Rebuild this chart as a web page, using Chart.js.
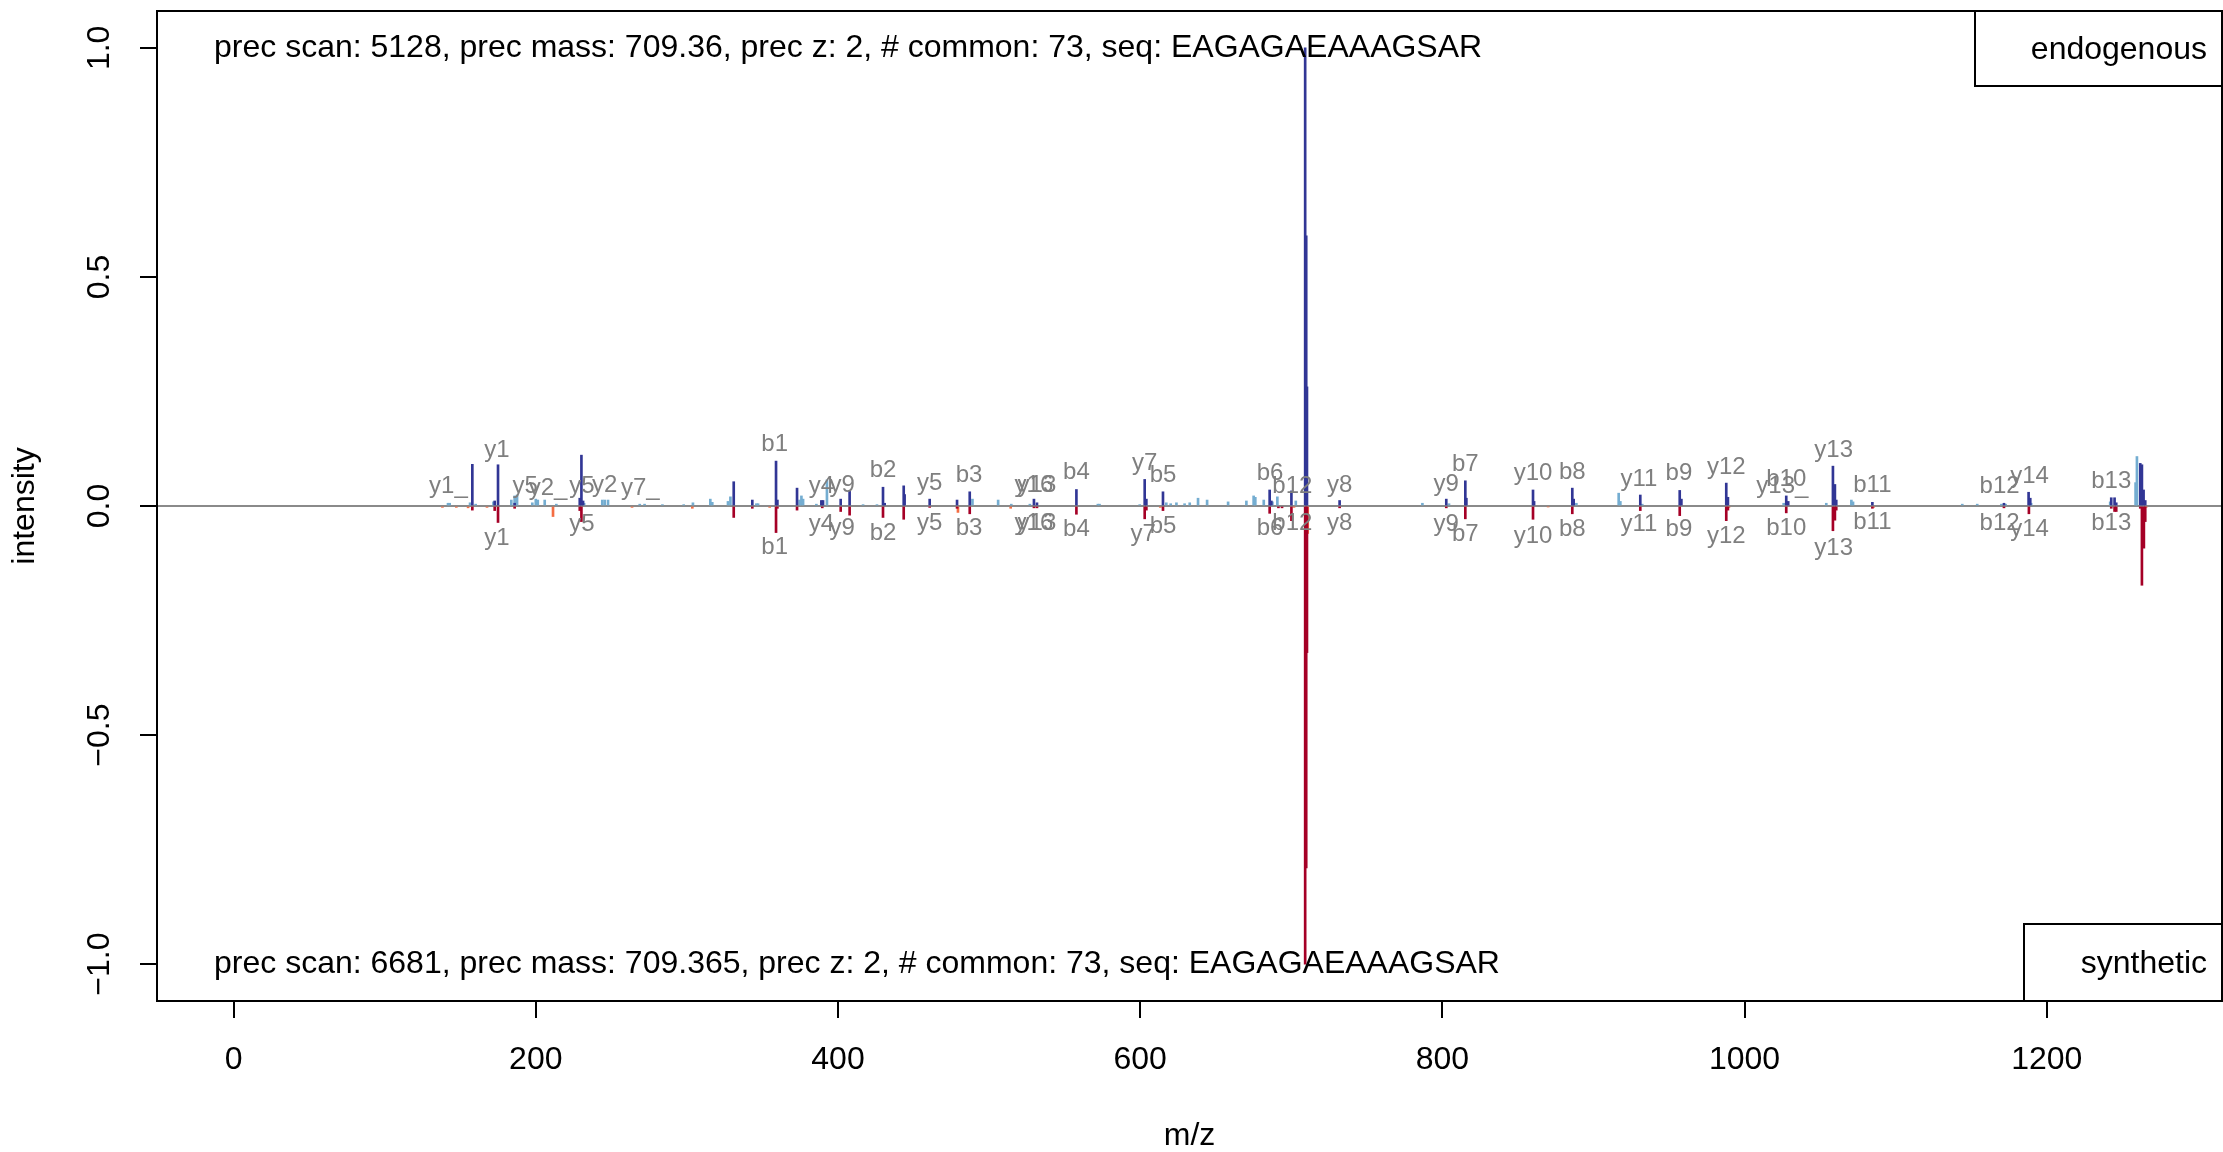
<!DOCTYPE html>
<html>
<head>
<meta charset="utf-8">
<script src="https://cdn.jsdelivr.net/npm/chart.js@4/dist/chart.umd.min.js"></script>
<style>
  html, body { margin: 0; padding: 0; background: #fff; }
  canvas { display: block; }
</style>
</head>
<body>
<canvas id="spectrum" width="2223" height="1152"></canvas>
<script>
// endogenous peaks matched to fragment ions (dark blue, up)
const endoMatchedMz = [158.0, 172.8, 175.0, 186.0, 229.1, 230.2, 231.3, 331.0, 343.3, 359.0, 359.9, 372.9,
  389.0, 390.1, 401.8, 407.7, 429.8, 430.9, 443.5, 444.1, 460.7, 478.8, 487.2, 529.7, 531.7, 557.8,
  603.0, 604.1, 615.1, 685.7, 686.8, 700.1, 709.2, 709.9, 710.4, 732.0, 802.6, 815.2, 815.9, 860.0,
  860.7, 886.0, 886.9, 931.0, 957.1, 958.2, 987.9, 989.0, 1027.6, 1028.9, 1058.5, 1059.8, 1060.7,
  1084.6, 1171.7, 1188.0, 1189.1, 1242.7, 1244.9, 1246.0, 1261.9, 1263.0, 1264.1, 1265.2];
const endoMatchedInt = [0.091, 0.011, 0.090, 0.006, 0.017, 0.111, 0.011, 0.053, 0.013, 0.098, 0.013, 0.039,
  0.012, 0.012, 0.015, 0.033, 0.041, 0.006, 0.044, 0.025, 0.015, 0.013, 0.031, 0.015, 0.007, 0.036,
  0.058, 0.015, 0.031, 0.035, 0.011, 0.033, 1.0, 0.59, 0.26, 0.012, 0.015, 0.055, 0.017, 0.035,
  0.010, 0.039, 0.015, 0.024, 0.034, 0.015, 0.050, 0.019, 0.022, 0.010, 0.087, 0.047, 0.013,
  0.008, 0.006, 0.030, 0.017, 0.018, 0.018, 0.007, 0.093, 0.090, 0.035, 0.012];

// endogenous peaks without a match (light blue, up)
const endoOtherMz = [141.9, 143.0, 156.5, 160.2, 172.0, 183.8, 186.0, 187.6, 197.7, 200.0, 201.3, 205.9,
  213.6, 232.0, 244.0, 245.6, 247.8, 268.8, 272.0, 283.8, 297.9, 304.0, 315.5, 316.8, 327.2, 328.8,
  346.0, 347.1, 374.6, 375.8, 376.9, 385.7, 392.7, 416.6, 425.8, 489.0, 506.0, 514.7, 527.0, 572.0,
  573.1, 599.7, 617.3, 620.2, 624.0, 629.4, 632.8, 638.3, 644.3, 658.2, 670.3, 675.1, 676.2, 681.8,
  687.5, 690.8, 703.0, 786.8, 804.4, 888.7, 916.7, 917.8, 932.3, 1025.9, 1054.1, 1070.7, 1071.8,
  1144.1, 1154.0, 1170.0, 1172.8, 1189.7, 1242.0, 1258.8, 1259.7];
const endoOtherInt = [0.006, 0.006, 0.007, 0.004, 0.009, 0.013, 0.022, 0.024, 0.007, 0.015, 0.013, 0.013,
  0.004, 0.006, 0.013, 0.013, 0.013, 0.004, 0.004, 0.003, 0.003, 0.007, 0.015, 0.008, 0.010, 0.020,
  0.005, 0.005, 0.013, 0.022, 0.015, 0.004, 0.057, 0.003, 0.003, 0.015, 0.013, 0.004, 0.004, 0.004,
  0.004, 0.003, 0.007, 0.005, 0.007, 0.005, 0.007, 0.017, 0.013, 0.009, 0.011, 0.022, 0.019, 0.013,
  0.009, 0.020, 0.011, 0.006, 0.005, 0.006, 0.028, 0.010, 0.004, 0.006, 0.006, 0.013, 0.009,
  0.004, 0.004, 0.004, 0.004, 0.006, 0.009, 0.051, 0.108];

// synthetic peaks matched to fragment ions (dark red, down)
const synthMatchedMz = [158.0, 172.8, 175.0, 186.0, 229.1, 230.2, 331.0, 343.3, 359.0, 359.9, 372.9, 389.6,
  401.8, 407.7, 429.8, 443.5, 460.7, 478.8, 487.2, 529.7, 531.7, 557.8, 603.0, 604.1, 615.1, 685.7,
  691.5, 693.9, 700.1, 709.2, 709.9, 710.4, 732.0, 802.6, 815.2, 860.0, 886.0, 931.0, 957.1, 987.9,
  989.0, 1027.6, 1058.5, 1059.8, 1060.7, 1084.6, 1171.7, 1188.2, 1242.7, 1244.9, 1246.0, 1261.9,
  1263.0, 1264.3, 1265.2];
const synthMatchedInt = [-0.009, -0.010, -0.036, -0.005, -0.010, -0.034, -0.025, -0.005, -0.058, -0.005, -0.009, -0.004,
  -0.012, -0.020, -0.025, -0.029, -0.003, -0.005, -0.017, -0.004, -0.004, -0.018, -0.028, -0.009, -0.010, -0.016,
  -0.004, -0.004, -0.032, -1.0, -0.79, -0.32, -0.004, -0.004, -0.028, -0.029, -0.017, -0.010, -0.021, -0.032,
  -0.009, -0.015, -0.054, -0.031, -0.009, -0.005, -0.004, -0.017, -0.005, -0.012, -0.012, -0.005,
  -0.173, -0.092, -0.034];

// synthetic peaks without a match (orange, down)
const synthOtherMz = [138.2, 147.4, 155.2, 167.7, 211.4, 263.7, 303.6, 354.8, 479.4, 514.3, 613.3, 701.8,
  710.9, 870.0, 989.7, 1085.4, 1265.8];
const synthOtherInt = [-0.003, -0.003, -0.004, -0.003, -0.023, -0.003, -0.005, -0.003, -0.014, -0.005, -0.003, -0.003,
  -0.06, -0.002, -0.003, -0.003, -0.003];

// ion labels above the endogenous spectrum
const topLabelText = ["y1_", "y1", "y5", "y2_", "y5", "y2", "y7_", "b1", "y4", "y9", "b2", "y5", "b3", "y16", "y13",
  "b4", "y7", "b5", "b6", "b12", "y8", "y9", "b7", "y10", "b8", "y11", "b9", "y12", "y13_", "b10", "y13", "b11",
  "b12", "y14", "b13"];
const topLabelMz = [142.2, 174.3, 192.9, 208.1, 230.6, 245.6, 269.2, 358.1, 389.0, 402.7, 429.8, 460.7, 486.7, 529.7, 531.7,
  557.8, 603.0, 615.1, 686.0, 700.7, 732.0, 802.6, 815.2, 860.0, 886.0, 930.1, 956.6, 987.9, 1025.0, 1027.6, 1059.0, 1084.6,
  1168.8, 1188.6, 1242.7];
const topLabelInt = [0.042, 0.122, 0.042, 0.039, 0.042, 0.046, 0.039, 0.135, 0.042, 0.046, 0.077, 0.050, 0.066, 0.046, 0.046,
  0.074, 0.093, 0.066, 0.071, 0.042, 0.046, 0.047, 0.090, 0.071, 0.073, 0.059, 0.071, 0.084, 0.042, 0.058, 0.122, 0.046,
  0.042, 0.064, 0.053];

// ion labels below the synthetic spectrum
const bottomLabelText = ["y1", "y5", "b1", "y4", "y9", "b2", "y5", "b3", "y16", "y13", "b4", "y7", "b5", "b6", "b12", "y8",
  "y9", "b7", "y10", "b8", "y11", "b9", "y12", "b10", "y13", "b11", "b12", "y14", "b13"];
const bottomLabelMz = [174.3, 230.6, 358.1, 389.0, 402.7, 429.8, 460.7, 486.7, 529.7, 531.7, 557.8, 602.0, 615.1, 686.0, 700.7, 732.0,
  802.6, 815.2, 860.0, 886.0, 930.1, 956.6, 987.9, 1027.6, 1059.0, 1084.6, 1168.8, 1188.6, 1242.7];
const bottomLabelInt = [-0.071, -0.041, -0.091, -0.041, -0.049, -0.060, -0.038, -0.049, -0.038, -0.038, -0.051, -0.063, -0.044, -0.049, -0.038, -0.039,
  -0.040, -0.063, -0.066, -0.051, -0.041, -0.052, -0.067, -0.049, -0.092, -0.036, -0.038, -0.052, -0.038];

const xTicks = [0, 200, 400, 600, 800, 1000, 1200];
const yTicks = [-1, -0.5, 0, 0.5, 1];
const yTickLabels = ["\u22121.0", "\u22120.5", "0.0", "0.5", "1.0"];

const topInfo = "prec scan: 5128, prec mass: 709.36, prec z: 2, # common: 73, seq: EAGAGAEAAAGSAR";
const bottomInfo = "prec scan: 6681, prec mass: 709.365, prec z: 2, # common: 73, seq: EAGAGAEAAAGSAR";

const FONT = '"Liberation Sans", Arial, Helvetica, sans-serif';

function toPoints(xs, ys) {
  return xs.map((x, i) => ({ x: x, y: ys[i] }));
}

// baseline, frame, axis text, ion labels and the two legend boxes
const spectrumDecor = {
  id: "spectrumDecor",
  beforeDatasetsDraw(chart) {
    const { ctx, chartArea, scales } = chart;
    const y0 = scales.y.getPixelForValue(0);
    ctx.save();
    ctx.strokeStyle = "#8a8a8a";
    ctx.lineWidth = 2;
    ctx.beginPath();
    ctx.moveTo(chartArea.left, y0);
    ctx.lineTo(chartArea.right, y0);
    ctx.stroke();
    ctx.restore();
  },
  afterDatasetsDraw(chart) {
    const { ctx, chartArea, scales } = chart;
    const xs = scales.x, ys = scales.y;
    ctx.save();

    // ion labels
    ctx.fillStyle = "#7f7f7f";
    ctx.font = "24px " + FONT;
    ctx.textAlign = "center";
    ctx.textBaseline = "middle";
    topLabelText.forEach((t, i) => {
      ctx.fillText(t, xs.getPixelForValue(topLabelMz[i]), ys.getPixelForValue(topLabelInt[i]));
    });
    bottomLabelText.forEach((t, i) => {
      ctx.fillText(t, xs.getPixelForValue(bottomLabelMz[i]), ys.getPixelForValue(bottomLabelInt[i]));
    });

    // precursor info lines
    ctx.fillStyle = "#000";
    ctx.font = "32px " + FONT;
    ctx.textAlign = "left";
    ctx.fillText(topInfo, chartArea.left + 57, ys.getPixelForValue(1));
    ctx.fillText(bottomInfo, chartArea.left + 57, ys.getPixelForValue(-1));

    // legend boxes
    ctx.lineWidth = 2;
    ctx.strokeStyle = "#000";
    ctx.fillStyle = "#fff";
    ctx.fillRect(1975, chartArea.top, chartArea.right - 1975, 75);
    ctx.strokeRect(1975, chartArea.top, chartArea.right - 1975, 75);
    ctx.fillRect(2024, chartArea.bottom - 77, chartArea.right - 2024, 77);
    ctx.strokeRect(2024, chartArea.bottom - 77, chartArea.right - 2024, 77);
    ctx.fillStyle = "#000";
    ctx.textAlign = "right";
    ctx.fillText("endogenous", chartArea.right - 15, chartArea.top + 39);
    ctx.fillText("synthetic", chartArea.right - 15, chartArea.bottom - 37);

    // frame
    ctx.strokeRect(chartArea.left, chartArea.top, chartArea.right - chartArea.left, chartArea.bottom - chartArea.top);

    // tick labels
    ctx.textAlign = "center";
    xTicks.forEach(v => ctx.fillText(String(v), xs.getPixelForValue(v), 1060));
    yTicks.forEach((v, i) => {
      ctx.save();
      ctx.translate(100, ys.getPixelForValue(v));
      ctx.rotate(-Math.PI / 2);
      ctx.fillText(yTickLabels[i], 0, 0);
      ctx.restore();
    });

    // axis titles
    ctx.fillText("m/z", (chartArea.left + chartArea.right) / 2, 1136);
    ctx.save();
    ctx.translate(25, (chartArea.top + chartArea.bottom) / 2);
    ctx.rotate(-Math.PI / 2);
    ctx.fillText("intensity", 0, 0);
    ctx.restore();

    ctx.restore();
  },
};

const axisGrid = { drawOnChartArea: false, drawTicks: true, tickLength: 17, color: "#000", lineWidth: 2, offset: false };

new Chart(document.getElementById("spectrum"), {
  type: "bar",
  data: {
    datasets: [
      { label: "endogenous other", data: toPoints(endoOtherMz, endoOtherInt), backgroundColor: "#74ADD1", order: 4 },
      { label: "synthetic other", data: toPoints(synthOtherMz, synthOtherInt), backgroundColor: "#F46D43", order: 3 },
      { label: "endogenous", data: toPoints(endoMatchedMz, endoMatchedInt), backgroundColor: "#313695", order: 2 },
      { label: "synthetic", data: toPoints(synthMatchedMz, synthMatchedInt), backgroundColor: "#A50026", order: 1 },
    ],
  },
  options: {
    responsive: false,
    animation: false,
    events: [],
    datasets: { bar: { barThickness: 2, grouped: false, borderWidth: 0 } },
    layout: { padding: { top: 11, right: 1, left: 0, bottom: 0 } },
    plugins: { legend: { display: false }, tooltip: { enabled: false } },
    scales: {
      x: {
        type: "linear",
        min: -50.7,
        max: 1316,
        offset: false,
        afterBuildTicks: (s) => { s.ticks = xTicks.map(v => ({ value: v })); },
        afterFit: (s) => { s.height = 151; },
        grid: axisGrid,
        border: { display: false },
        ticks: { display: false },
      },
      y: {
        type: "linear",
        min: -1.0805,
        max: 1.0805,
        afterBuildTicks: (s) => { s.ticks = yTicks.map(v => ({ value: v })); },
        afterFit: (s) => { s.width = 157; },
        grid: axisGrid,
        border: { display: false },
        ticks: { display: false },
      },
    },
  },
  plugins: [spectrumDecor],
});
</script>
</body>
</html>
